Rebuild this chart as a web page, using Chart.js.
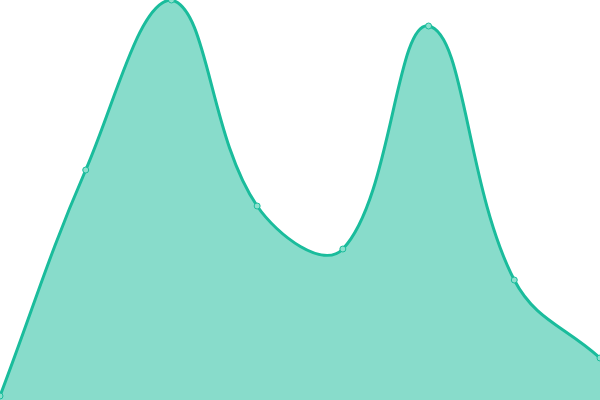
<!DOCTYPE html>
<html>
<head>
<meta charset="utf-8">
<script src="https://cdn.jsdelivr.net/npm/chart.js@4"></script>
<style>
html,body{margin:0;padding:0;background:#fff;}
#wrap{width:600px;height:400px;}
</style>
</head>
<body>
<div id="wrap"><canvas id="c"></canvas></div>
<script>
const labels = ['A','B','C','D','E','F','G','H'];
const values = [1, 57.5, 100, 48.5, 37.75, 93.5, 30, 10.5];
const yMin = 0, yMax = 100;

new Chart(document.getElementById('c'), {
  type: 'line',
  data: {
    labels: labels,
    datasets: [{
      data: values,
      fill: true,
      tension: 0.4,
      borderColor: '#1abc9c',
      backgroundColor: 'rgba(26,188,156,0.52)',
      borderWidth: 3,
      pointRadius: 3,
      pointBorderWidth: 1,
      pointBackgroundColor: 'rgba(140,224,205,1)',
      pointBorderColor: '#1abc9c'
    }]
  },
  options: {
    responsive: true,
    maintainAspectRatio: false,
    animation: false,
    layout: { padding: 0, autoPadding: false },
    plugins: { legend: { display: false }, tooltip: { enabled: false } },
    scales: {
      x: { display: false },
      y: { display: false, min: yMin, max: yMax }
    }
  }
});
</script>
</body>
</html>
